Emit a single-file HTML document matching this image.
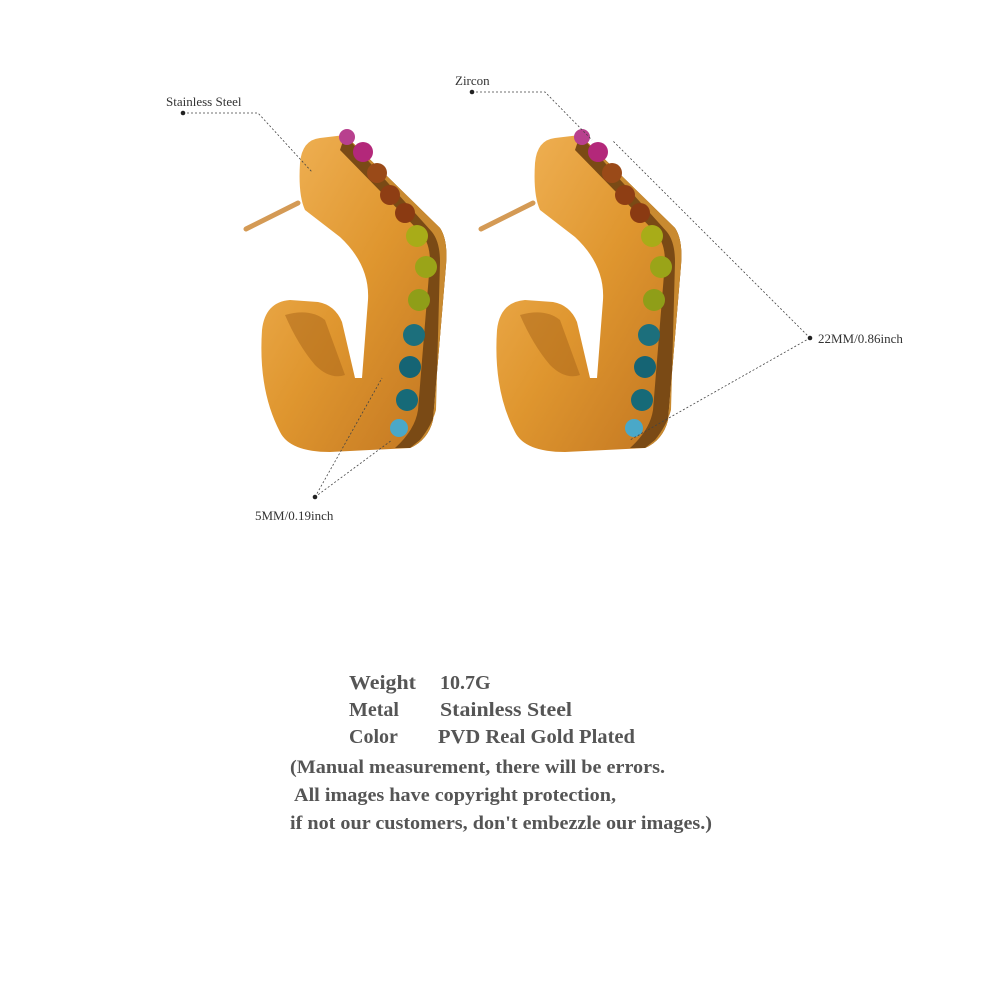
<!DOCTYPE html>
<html><head><meta charset="utf-8"><style>
html,body{margin:0;padding:0;background:#fff;}
body{width:1000px;height:1000px;overflow:hidden;position:relative;}
</style></head><body>
<svg width="1000" height="1000" viewBox="0 0 1000 1000" xmlns="http://www.w3.org/2000/svg" style="position:absolute;left:0;top:0">
<defs>
<linearGradient id="g" x1="0" y1="0" x2="1" y2="1">
<stop offset="0" stop-color="#f2b55a"/><stop offset="0.5" stop-color="#df962f"/><stop offset="1" stop-color="#c07420"/>
</linearGradient>
<g id="ear">
<path d="M246 229 L298 203" stroke="#d49a55" stroke-width="5" stroke-linecap="round"/>
<path d="M300 163 Q302 140 320 138 L345 135 L440 228 Q448 240 446 265 L433 420 Q428 440 410 448 L330 452 Q290 452 280 432 Q258 390 262 330 Q265 302 290 300 L318 302 Q335 305 342 322 L355 378 L362 378 L368 300 Q370 265 340 237 L305 210 Q298 195 300 163 Z" fill="url(#g)"/>
<path d="M285 315 Q310 308 325 320 L345 375 Q330 380 315 365 Q298 345 285 315 Z" fill="#a86418" opacity="0.5"/>
<path d="M345 135 L440 228 Q448 240 446 265 L433 420 Q428 440 410 448 L395 448 Q415 430 418 410 L430 262 Q430 242 420 232 L340 150 Z" fill="#7a4a15"/>
<path d="M345 135 L440 228 Q448 240 446 265 L433 420 Q428 440 410 448 L420 440 Q432 425 436 410 L440 262 Q440 242 432 232 Z" fill="#c98a30"/>
<g>
<circle cx="347" cy="137" r="8" fill="#b8408e"/>
<circle cx="363" cy="152" r="10" fill="#b3287a"/>
<circle cx="377" cy="173" r="10" fill="#9a4a18"/>
<circle cx="390" cy="195" r="10" fill="#8e3e14"/>
<circle cx="405" cy="213" r="10" fill="#8a3a12"/>
<circle cx="417" cy="236" r="11" fill="#a8ac18"/>
<circle cx="426" cy="267" r="11" fill="#9aa418"/>
<circle cx="419" cy="300" r="11" fill="#8f9e18"/>
<circle cx="414" cy="335" r="11" fill="#1c6f7c"/>
<circle cx="410" cy="367" r="11" fill="#156474"/>
<circle cx="407" cy="400" r="11" fill="#166a78"/>
<circle cx="399" cy="428" r="9" fill="#4aa8c8"/>
</g>
</g>
</defs>
<use href="#ear"/>
<g transform="translate(235,0)"><use href="#ear"/></g>

<g stroke="#444" stroke-width="0.8" stroke-dasharray="2,2" fill="none">
<path d="M183 113 L258 113 L312 172"/>
<path d="M472 92 L545 92 L592 140"/>
<path d="M810 338 L612 140 M810 338 L630 440"/>
<path d="M315 497 L382 378 M315 497 L392 440"/>
</g>
<g fill="#222"><circle cx="183" cy="113" r="2.3"/><circle cx="472" cy="92" r="2.3"/><circle cx="810" cy="338" r="2.3"/><circle cx="315" cy="497" r="2.3"/></g>
<g font-family="Liberation Serif, serif" font-size="13" fill="#333">
<text x="166" y="106">Stainless Steel</text>
<text x="455" y="85">Zircon</text>
<text x="818" y="343">22MM/0.86inch</text>
<text x="255" y="520">5MM/0.19inch</text>
</g>
<g font-family="Liberation Serif, serif" font-weight="bold" fill="#555">
<text x="349" y="689" font-size="20" textLength="67" lengthAdjust="spacingAndGlyphs">Weight</text><text x="440" y="689" font-size="20">10.7G</text>
<text x="349" y="716" font-size="20">Metal</text><text x="440" y="716" font-size="20" textLength="132" lengthAdjust="spacingAndGlyphs">Stainless Steel</text>
<text x="349" y="743" font-size="20">Color</text><text x="438" y="743" font-size="20" textLength="197" lengthAdjust="spacingAndGlyphs">PVD Real Gold Plated</text>
<text x="290" y="773" font-size="19" textLength="375" lengthAdjust="spacingAndGlyphs">(Manual measurement, there will be errors.</text>
<text x="294" y="801" font-size="19" textLength="322" lengthAdjust="spacingAndGlyphs">All images have copyright protection,</text>
<text x="290" y="829" font-size="19" textLength="422" lengthAdjust="spacingAndGlyphs">if not our customers, don't embezzle our images.)</text>
</g>
</svg>
</body></html>
